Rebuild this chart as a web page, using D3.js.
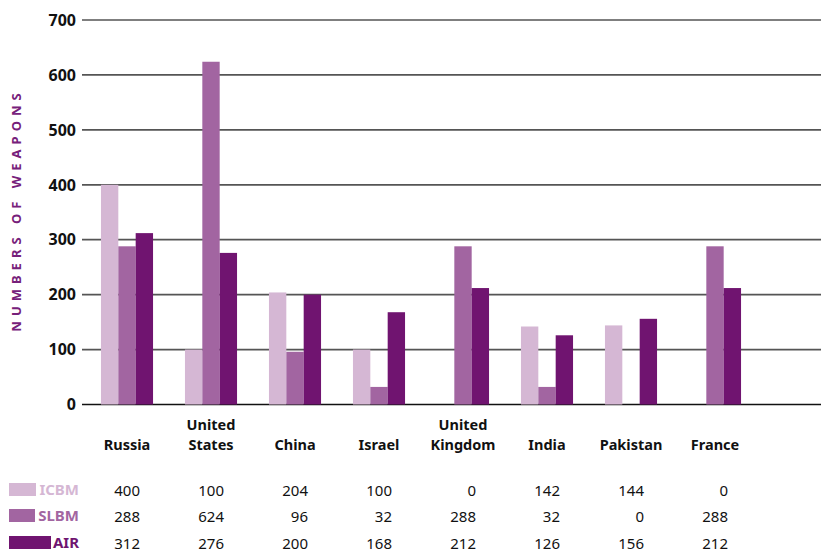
<!DOCTYPE html>
<html>
<head>
<meta charset="utf-8">
<script src="https://cdn.jsdelivr.net/npm/d3@7"></script>
<style>
  body { margin: 0; background: #fff; }
  svg { display: block; font-family: "Noto Sans", "Open Sans", sans-serif; }
</style>
</head>
<body>
<svg width="821" height="553"></svg>
<script>
// data
var countries = ["Russia", "United States", "China", "Israel", "United Kingdom", "India", "Pakistan", "France"];
var series = ["ICBM", "SLBM", "AIR"];
var icbm = [400, 100, 204, 100, 0, 142, 144, 0];
var slbm = [288, 624, 96, 32, 288, 32, 0, 288];
var air = [312, 276, 200, 168, 212, 126, 156, 212];
var yTicks = [0, 100, 200, 300, 400, 500, 600, 700];

var colors = ["#d5b7d4", "#a265a1", "#701470"];
var values = [icbm, slbm, air];

var svg = d3.select("svg");

var x0 = d3.scaleBand()
  .domain(countries)
  .range([85, 757])
  .paddingInner(0.38)
  .paddingOuter(0.19);

var x1 = d3.scaleBand()
  .domain(series)
  .range([0, x0.bandwidth()]);

var y = d3.scaleLinear()
  .domain([0, 700])
  .range([404.5, 20]);

var color = d3.scaleOrdinal().domain(series).range(colors);

// gridlines + tick labels
var grid = svg.append("g");
grid.selectAll("line")
  .data(yTicks)
  .enter().append("line")
  .attr("x1", 82)
  .attr("x2", 821)
  .attr("y1", function(d) { return y(d); })
  .attr("y2", function(d) { return y(d); })
  .attr("stroke", function(d) { return d == 0 ? "#111" : "#555"; })
  .attr("stroke-width", 1.7);

grid.selectAll("text")
  .data(yTicks)
  .enter().append("text")
  .attr("x", 76)
  .attr("y", function(d) { return y(d); })
  .attr("dy", "0.36em")
  .attr("text-anchor", "end")
  .attr("font-size", 16)
  .attr("font-weight", "bold")
  .attr("fill", "#111")
  .text(function(d) { return d; });

// y title
svg.append("text")
  .attr("transform", "translate(21,210) rotate(-90)")
  .attr("text-anchor", "middle")
  .attr("font-size", 13)
  .attr("font-weight", "bold")
  .attr("letter-spacing", "5px")
  .attr("fill", "#76207a")
  .text("NUMBERS OF WEAPONS");

// bars
var groups = svg.append("g").selectAll("g")
  .data(countries)
  .enter().append("g")
  .attr("transform", function(d) { return "translate(" + x0(d) + ",0)"; });

groups.selectAll("rect")
  .data(function(d, i) {
    return series.map(function(s, j) { return { key: s, value: values[j][i] }; });
  })
  .enter().append("rect")
  .filter(function(d) { return d.value > 0; })
  .attr("x", function(d) { return x1(d.key); })
  .attr("width", x1.bandwidth())
  .attr("y", function(d) { return y(d.value); })
  .attr("height", function(d) { return y(0) - y(d.value); })
  .attr("fill", function(d) { return color(d.key); });

// country labels (two lines where needed)
var labels = svg.append("g").selectAll("text")
  .data(countries)
  .enter().append("text")
  .attr("text-anchor", "middle")
  .attr("font-size", 14.5)
  .attr("font-weight", "bold")
  .attr("fill", "#111")
  .attr("x", function(d) { return x0(d) + x0.bandwidth() / 2; })
  .attr("y", 450);

labels.each(function(d) {
  var t = d3.select(this);
  var parts = d.split(" ");
  if (parts.length == 1) {
    t.text(d);
  } else {
    t.append("tspan").attr("x", t.attr("x")).attr("y", 429.5).text(parts[0]);
    t.append("tspan").attr("x", t.attr("x")).attr("y", 450).text(parts[1]);
  }
});

// table with legend swatches
var rowY = [490, 516, 543];
var swatchW = [27, 26, 42];
var table = svg.append("g");
series.forEach(function(s, j) {
  table.append("rect")
    .attr("x", 9)
    .attr("y", rowY[j] - 7)
    .attr("width", swatchW[j])
    .attr("height", 13)
    .attr("fill", colors[j]);
  table.append("text")
    .attr("x", 79)
    .attr("y", rowY[j])
    .attr("dy", "0.36em")
    .attr("text-anchor", "end")
    .attr("font-size", 15)
    .attr("font-weight", "bold")
    .attr("fill", colors[j])
    .text(s);
  table.selectAll(".v" + j)
    .data(values[j])
    .enter().append("text")
    .attr("class", "v" + j)
    .attr("x", function(d, i) { return x0(countries[i]) + x0.bandwidth() / 2 + 13; })
    .attr("y", rowY[j] + 1)
    .attr("dy", "0.36em")
    .attr("text-anchor", "end")
    .attr("font-size", 15)
    .attr("fill", "#111")
    .text(function(d) { return d; });
});
</script>
</body>
</html>
